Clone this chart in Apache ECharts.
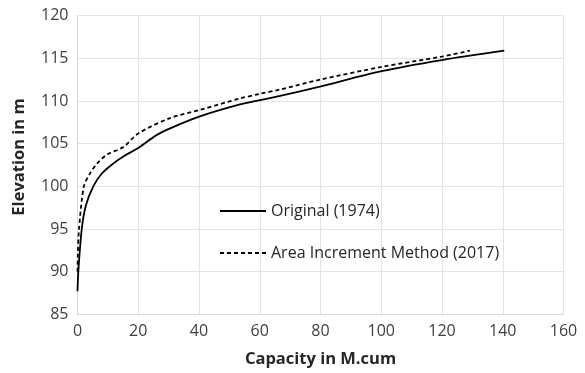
<!DOCTYPE html>
<html>
<head>
<meta charset="utf-8">
<script src="https://cdn.jsdelivr.net/npm/echarts@6/dist/echarts.min.js"></script>
<style>
  html, body { margin: 0; padding: 0; background: #fff; }
  #chart { width: 585px; height: 373px; }
</style>
</head>
<body>
<div id="chart"></div>
<script>
// Elevation–capacity curves of the reservoir
const originalCapacity = [0, 0.27, 1.4, 2.8, 5.2, 8, 11.5, 15.1, 20, 26, 30.5, 40.3, 53.5, 60.1, 66.7, 79.8, 100.1, 119.9, 140.5];
const originalElevation = [87.7, 90, 95, 97.8, 100, 101.5, 102.6, 103.5, 104.5, 106, 106.8, 108.2, 109.6, 110.1, 110.6, 111.7, 113.5, 114.8, 115.9];

const aimCapacity = [0, 0.1, 0.5, 2.1, 4.1, 6.5, 9.6, 15.1, 20, 30.5, 40.3, 53.5, 60.1, 66.7, 79.8, 100.1, 119.9, 129.2];
const aimElevation = [90, 92, 95, 100, 101.5, 102.7, 103.7, 104.6, 106.2, 108.0, 108.95, 110.3, 110.85, 111.35, 112.5, 114.0, 115.2, 115.9];

const seriesNames = ['Original (1974)', 'Area Increment Method (2017)'];

const xTicks = { min: 0, max: 160, interval: 20 };
const yTicks = { min: 85, max: 120, interval: 5 };

const pairs = (xs, ys) => xs.map((x, i) => [x, ys[i]]);

const FONT = '"Open Sans", "DejaVu Sans", sans-serif';

// one legend block per entry so each row sits at its own height
const legendRow = (name, top) => ({
  orient: 'vertical',
  left: 214,
  top: top,
  itemWidth: 46,
  itemHeight: 14,
  itemStyle: { opacity: 0 },
  textStyle: { fontFamily: FONT, fontSize: 16, color: '#262626' },
  data: [name]
});

const chart = echarts.init(document.getElementById('chart'));
chart.setOption({
  animation: false,
  backgroundColor: '#ffffff',
  grid: { left: 77.5, right: 21.5, top: 15.7, bottom: 58.7 },
  legend: [legendRow(seriesNames[0], 198), legendRow(seriesNames[1], 240)],
  xAxis: {
    type: 'value',
    min: xTicks.min, max: xTicks.max, interval: xTicks.interval,
    name: 'Capacity in M.cum',
    nameLocation: 'middle',
    nameGap: 36,
    nameTextStyle: { fontFamily: FONT, fontSize: 16.5, fontWeight: 'bold', color: '#262626' },
    axisLine: { show: true, lineStyle: { color: '#d9d9d9', width: 1 } },
    axisTick: { show: false },
    axisLabel: { fontFamily: FONT, fontSize: 16, color: '#404040', margin: 9 },
    splitLine: { show: true, lineStyle: { color: '#e3e3e3', width: 1 } }
  },
  yAxis: {
    type: 'value',
    min: yTicks.min, max: yTicks.max, interval: yTicks.interval,
    name: 'Elevation in m',
    nameLocation: 'middle',
    nameGap: 50,
    nameTextStyle: { fontFamily: FONT, fontSize: 16.5, fontWeight: 'bold', color: '#262626', padding: [0, 0, 0, 16] },
    axisLine: { show: true, lineStyle: { color: '#d9d9d9', width: 1 } },
    axisTick: { show: false },
    axisLabel: { fontFamily: FONT, fontSize: 16, color: '#404040', margin: 9 },
    splitLine: { show: true, lineStyle: { color: '#e3e3e3', width: 1 } }
  },
  series: [
    {
      name: seriesNames[0],
      type: 'line',
      data: pairs(originalCapacity, originalElevation),
      showSymbol: false,
      symbol: 'none',
      smooth: 0.3,
      lineStyle: { color: '#000000', width: 1.8, type: 'solid' },
      itemStyle: { color: '#000000' }
    },
    {
      name: seriesNames[1],
      type: 'line',
      data: pairs(aimCapacity, aimElevation),
      showSymbol: false,
      symbol: 'none',
      smooth: 0.3,
      lineStyle: { color: '#000000', width: 1.8, type: [4, 3] },
      itemStyle: { color: '#000000' }
    }
  ]
});
</script>
</body>
</html>
